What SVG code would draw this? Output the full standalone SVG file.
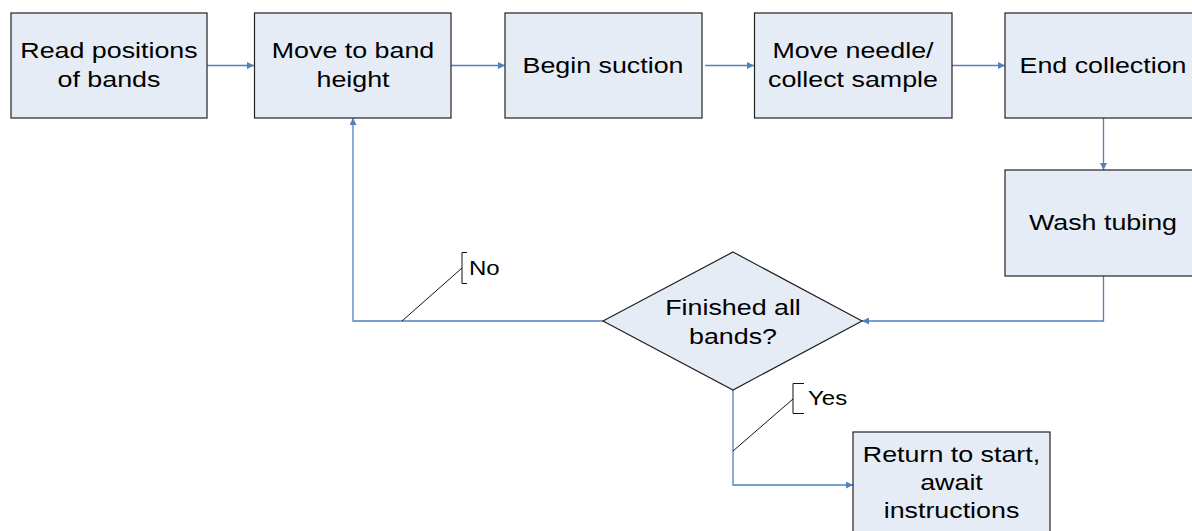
<svg xmlns="http://www.w3.org/2000/svg" width="1192" height="531" viewBox="0 0 1192 531">
<style>
.box{fill:#E6ECF6;stroke:#222;stroke-width:1.2}
.conn{fill:none;stroke:#4F81BD;stroke-width:1.3}
.call{fill:none;stroke:#111;stroke-width:1}
.t{font-family:"Liberation Sans",Arial,sans-serif;font-size:22px;fill:#000;text-anchor:middle}
.l{font-family:"Liberation Sans",Arial,sans-serif;font-size:20px;fill:#000}
</style>
<defs>
<marker id="ah" viewBox="0 0 10 10" refX="10" refY="5" markerWidth="8" markerHeight="7" markerUnits="userSpaceOnUse" orient="auto">
<path d="M0,0 L10,5 L0,10 z" fill="#4F81BD"/>
</marker>
</defs>
<rect width="1192" height="531" fill="#fff"/>
<g id="connectors">
<line class="conn" x1="207" y1="65.5" x2="254" y2="65.5" marker-end="url(#ah)"/>
<line class="conn" x1="451" y1="65.5" x2="505" y2="65.5" marker-end="url(#ah)"/>
<line class="conn" x1="705" y1="65.5" x2="754" y2="65.5" marker-end="url(#ah)"/>
<line class="conn" x1="949" y1="65.5" x2="1005" y2="65.5" marker-end="url(#ah)"/>
<line class="conn" x1="1103.5" y1="118" x2="1103.5" y2="170" marker-end="url(#ah)"/>
<polyline class="conn" points="1103.5,276 1103.5,321 862,321" marker-end="url(#ah)"/>
<polyline class="conn" points="603,321 353,321 353,118" marker-end="url(#ah)"/>
<polyline class="conn" points="733,390 733,485 853,485" marker-end="url(#ah)"/>
</g>
<g id="n1"><rect class="box" x="11" y="13" width="196" height="105"/>
<text class="t" transform="translate(109,58) scale(1.22,1)">Read positions</text>
<text class="t" transform="translate(109,87) scale(1.22,1)">of bands</text></g>
<g id="n2"><rect class="box" x="254.5" y="13" width="196.5" height="105"/>
<text class="t" transform="translate(353,58) scale(1.22,1)">Move to band</text>
<text class="t" transform="translate(353,87) scale(1.22,1)">height</text></g>
<g id="n3"><rect class="box" x="505" y="13" width="197" height="105"/>
<text class="t" transform="translate(603,73) scale(1.22,1)">Begin suction</text></g>
<g id="n4"><rect class="box" x="754.5" y="13" width="197.5" height="105"/>
<text class="t" transform="translate(853,58) scale(1.22,1)">Move needle/</text>
<text class="t" transform="translate(853,87) scale(1.22,1)">collect sample</text></g>
<g id="n5"><rect class="box" x="1005" y="13" width="197" height="105"/>
<text class="t" transform="translate(1103,73) scale(1.22,1)">End collection</text></g>
<g id="n6"><rect class="box" x="1005" y="170" width="197" height="106"/>
<text class="t" transform="translate(1103,230) scale(1.22,1)">Wash tubing</text></g>
<g id="n7"><polygon class="box" points="733,252 862,321 733,390 603,321"/>
<text class="t" transform="translate(733,315) scale(1.22,1)">Finished all</text>
<text class="t" transform="translate(733,344) scale(1.22,1)">bands?</text></g>
<g id="n8"><rect class="box" x="853" y="432" width="197" height="110"/>
<text class="t" transform="translate(951.5,462) scale(1.22,1)">Return to start,</text>
<text class="t" transform="translate(951.5,490) scale(1.22,1)">await</text>
<text class="t" transform="translate(951.5,518) scale(1.22,1)">instructions</text></g>
<g id="label-no">
<line class="call" x1="402" y1="321" x2="462" y2="268"/>
<polyline class="call" points="467,252.5 462,252.5 462,283.5 467,283.5"/>
<text class="l" transform="translate(469,275) scale(1.2,1)">No</text>
</g>
<g id="label-yes">
<line class="call" x1="733" y1="451" x2="793" y2="399"/>
<polyline class="call" points="804,383.5 793,383.5 793,413.5 804,413.5"/>
<text class="l" transform="translate(808,405) scale(1.2,1)">Yes</text>
</g>
</svg>
